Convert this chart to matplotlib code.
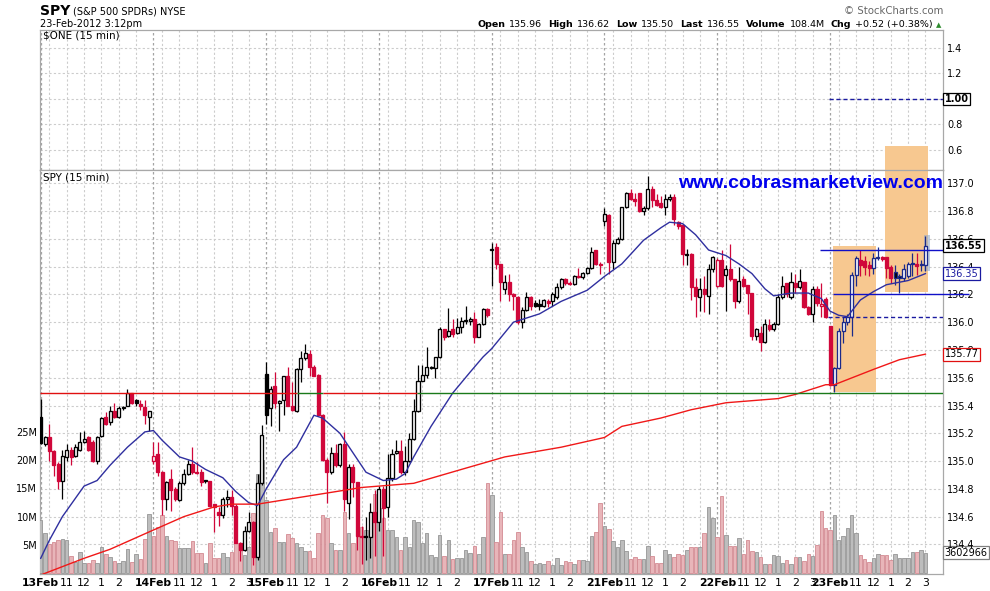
import matplotlib.pyplot as plt
from matplotlib.patches import Rectangle
from matplotlib.transforms import blended_transform_factory

# SPY 15-min bars, 13-Feb-2012 09:30 .. 23-Feb-2012 15:00 (26 per session, 23 on the last one)
days = ['13Feb', '14Feb', '15Feb', '16Feb', '17Feb', '21Feb', '22Feb', '23Feb']
bars_per_day = 26
hour_names = ['11', '12', '1', '2', '3']
hour_offsets = [6, 10, 14, 18, 22]
days_with_3pm = ['14Feb', '22Feb', '23Feb']
grid_offsets = [2, 6, 10, 14, 18, 22]
prior_close = 134.36

opens = [
    135.32, 135.12, 135.17, 135.07, 134.98, 134.86, 135.03, 135.08, 135.04, 135.08, 135.14, 135.17, 135.14,
    135.00, 135.18, 135.32, 135.28, 135.36, 135.32, 135.38, 135.40, 135.49, 135.44, 135.41, 135.39, 135.32,
    135.00, 135.05, 134.92, 134.73, 134.87, 134.80, 134.72, 134.84, 134.91, 134.98, 134.925, 134.92, 134.86,
    134.86, 134.69, 134.63, 134.61, 134.73, 134.74, 134.68, 134.41, 134.36, 134.50, 134.56, 134.31, 134.84,
    135.63, 135.38, 135.54, 135.42, 135.44, 135.61, 135.40, 135.36, 135.66, 135.74, 135.77, 135.68, 135.62,
    135.33, 135.01, 134.92, 135.06, 134.97, 135.12, 134.70, 134.96, 134.85, 134.46, 134.46, 134.45, 134.63,
    134.56, 134.80, 134.67, 134.88, 135.06, 135.075, 134.92, 135.00, 135.16, 135.36, 135.58, 135.62, 135.668,
    135.668, 135.747, 135.95, 135.90, 135.95, 135.92, 135.968, 136.011, 136.011, 136.02, 135.896, 135.987, 136.093,
    136.52, 136.54, 136.42, 136.24, 136.29, 136.20, 136.18, 136.00, 136.09, 136.18, 136.14, 136.13, 136.12,
    136.155, 136.15, 136.18, 136.25, 136.31, 136.285, 136.275, 136.333, 136.323, 136.357, 136.388, 136.52, 136.42,
    136.73, 136.77, 136.43, 136.57, 136.60, 136.83, 136.93, 136.89, 136.93, 136.80, 136.82, 136.96, 136.88,
    136.855, 136.83, 136.89, 136.90, 136.72, 136.70, 136.485, 136.49, 136.25, 136.18, 136.24, 136.19, 136.38,
    136.26, 136.45, 136.34, 136.38, 136.31, 136.15, 136.31, 136.27, 136.21, 135.90, 135.92, 135.86, 135.98,
    135.95, 135.99, 136.18, 136.28, 136.18, 136.28, 136.25, 136.29, 136.11, 136.06, 136.24, 136.12, 136.17,
    135.97, 135.55, 135.67, 135.94, 136.00, 136.04, 136.34, 136.45, 136.44, 136.41, 136.39, 136.46, 136.47,
    136.47, 136.40, 136.36, 136.33, 136.32, 136.33, 136.42, 136.42, 136.41, 136.41,
]
highs = [
    135.45, 135.18, 135.27, 135.08, 134.99, 135.08, 135.12, 135.10, 135.12, 135.21, 135.22, 135.18, 135.15,
    135.18, 135.32, 135.35, 135.40, 135.42, 135.40, 135.40, 135.52, 135.49, 135.45, 135.44, 135.44, 135.36,
    135.14, 135.14, 134.93, 134.86, 134.94, 134.81, 134.86, 134.94, 135.01, 135.10, 134.99, 134.94, 134.86,
    134.86, 134.69, 134.67, 134.74, 134.79, 134.79, 134.69, 134.42, 134.53, 134.63, 134.57, 134.91, 135.26,
    135.71, 135.54, 135.64, 135.44, 135.61, 135.68, 135.57, 135.67, 135.79, 135.84, 135.80, 135.69, 135.63,
    135.34, 135.02, 135.10, 135.12, 135.13, 135.21, 134.98, 134.98, 134.85, 134.53, 134.60, 134.70, 134.79,
    134.82, 134.82, 135.05, 135.09, 135.15, 135.15, 135.11, 135.20, 135.445, 135.69, 135.69, 135.82, 135.685,
    135.75, 135.963, 135.95, 136.10, 136.02, 136.028, 136.04, 136.117, 136.04, 136.076, 135.992, 136.10, 136.10,
    136.57, 136.57, 136.42, 136.34, 136.35, 136.21, 136.19, 136.11, 136.22, 136.19, 136.16, 136.17, 136.17,
    136.17, 136.22, 136.28, 136.32, 136.32, 136.30, 136.34, 136.39, 136.364, 136.40, 136.54, 136.52, 136.43,
    136.82, 136.78, 136.59, 136.61, 136.83, 136.94, 136.96, 136.93, 136.93, 136.84, 137.05, 136.98, 136.92,
    136.91, 136.92, 136.92, 136.92, 136.73, 136.70, 136.53, 136.50, 136.32, 136.32, 136.33, 136.42, 136.48,
    136.46, 136.52, 136.41, 136.56, 136.31, 136.40, 136.33, 136.27, 136.21, 135.96, 135.97, 136.02, 136.02,
    136.00, 136.20, 136.33, 136.28, 136.36, 136.35, 136.38, 136.29, 136.12, 136.26, 136.26, 136.28, 136.18,
    135.97, 135.68, 135.96, 136.04, 136.06, 136.36, 136.48, 136.52, 136.48, 136.44, 136.50, 136.54, 136.48,
    136.47, 136.41, 136.41, 136.35, 136.42, 136.43, 136.50, 136.50, 136.45, 136.62,
]
lows = [
    135.12, 135.11, 135.00, 134.89, 134.80, 134.73, 135.00, 134.97, 135.03, 135.07, 135.13, 135.07, 134.99,
    134.98, 135.17, 135.26, 135.26, 135.31, 135.31, 135.37, 135.40, 135.41, 135.40, 135.37, 135.27, 135.22,
    134.98, 134.89, 134.61, 134.65, 134.64, 134.71, 134.71, 134.83, 134.90, 134.91, 134.91, 134.82, 134.84,
    134.67, 134.49, 134.53, 134.59, 134.67, 134.61, 134.41, 134.28, 134.35, 134.49, 134.25, 134.29, 134.83,
    135.27, 135.25, 135.38, 135.22, 135.33, 135.40, 135.36, 135.35, 135.57, 135.73, 135.61, 135.61, 135.33,
    135.00, 134.70, 134.91, 134.96, 134.96, 134.64, 134.58, 134.74, 134.36, 134.26, 134.29, 134.30, 134.32,
    134.50, 134.32, 134.60, 134.86, 135.05, 134.91, 134.90, 134.99, 135.15, 135.35, 135.58, 135.60, 135.66,
    135.596, 135.74, 135.87, 135.895, 135.895, 135.915, 135.92, 135.99, 135.98, 135.848, 135.89, 135.98, 136.04,
    136.26, 136.38, 136.15, 136.20, 136.15, 136.09, 135.99, 135.96, 136.08, 136.09, 136.11, 136.09, 136.11,
    136.11, 136.12, 136.17, 136.24, 136.27, 136.27, 136.27, 136.315, 136.31, 136.35, 136.38, 136.41, 136.35,
    136.69, 136.35, 136.38, 136.56, 136.59, 136.82, 136.88, 136.84, 136.79, 136.77, 136.81, 136.83, 136.84,
    136.82, 136.77, 136.87, 136.70, 136.67, 136.41, 136.41, 136.16, 136.04, 136.08, 136.07, 136.06, 136.36,
    136.25, 136.25, 136.08, 136.30, 136.10, 136.14, 136.25, 136.06, 135.87, 135.87, 135.79, 135.85, 135.94,
    135.94, 135.98, 136.17, 136.18, 136.17, 136.21, 136.24, 136.10, 136.05, 136.00, 136.12, 136.04, 136.03,
    135.54, 135.50, 135.66, 135.85, 135.98, 135.90, 136.26, 136.33, 136.34, 136.33, 136.35, 136.45, 136.44,
    136.32, 136.28, 136.27, 136.21, 136.30, 136.32, 136.33, 136.34, 136.37, 136.37,
]
closes = [
    135.13, 135.17, 135.07, 134.97, 134.86, 135.04, 135.08, 135.03, 135.10, 135.14, 135.16, 135.08, 135.00,
    135.17, 135.31, 135.27, 135.36, 135.32, 135.38, 135.39, 135.49, 135.42, 135.42, 135.40, 135.33, 135.36,
    135.04, 134.92, 134.73, 134.85, 134.79, 134.73, 134.84, 134.91, 134.98, 134.92, 134.915, 134.85, 134.855,
    134.68, 134.67, 134.61, 134.73, 134.74, 134.68, 134.41, 134.36, 134.50, 134.56, 134.31, 134.84, 135.19,
    135.33, 135.52, 135.42, 135.43, 135.61, 135.40, 135.37, 135.66, 135.74, 135.78, 135.68, 135.61, 135.33,
    135.01, 134.92, 135.06, 134.97, 135.12, 134.73, 134.96, 134.85, 134.46, 134.45, 134.45, 134.63, 134.56,
    134.80, 134.66, 134.88, 135.05, 135.075, 134.92, 135.00, 135.16, 135.36, 135.58, 135.62, 135.675, 135.675,
    135.747, 135.95, 135.89, 135.94, 135.915, 135.968, 136.011, 136.016, 136.02, 135.896, 135.987, 136.093, 136.052,
    136.53, 136.42, 136.29, 136.29, 136.20, 136.19, 136.00, 136.09, 136.18, 136.12, 136.12, 136.12, 136.16,
    136.14, 136.20, 136.25, 136.31, 136.285, 136.275, 136.333, 136.323, 136.352, 136.388, 136.508, 136.42, 136.412,
    136.78, 136.43, 136.57, 136.60, 136.83, 136.93, 136.885, 136.87, 136.80, 136.82, 136.96, 136.88, 136.845,
    136.83, 136.885, 136.90, 136.74, 136.69, 136.49, 136.49, 136.256, 136.19, 136.24, 136.20, 136.38, 136.47,
    136.45, 136.26, 136.38, 136.31, 136.15, 136.30, 136.26, 136.21, 135.90, 135.95, 135.86, 135.99, 135.95,
    135.99, 136.18, 136.26, 136.20, 136.29, 136.25, 136.30, 136.11, 136.06, 136.24, 136.14, 136.13, 136.04,
    135.55, 135.67, 135.94, 136.00, 136.04, 136.34, 136.46, 136.41, 136.40, 136.39, 136.46, 136.465, 136.455,
    136.39, 136.32, 136.32, 136.32, 136.38, 136.42, 136.42, 136.405, 136.42, 136.55,
]
volume_m = [
    9.4, 7.05, 5.17, 5.47, 5.88, 6.0, 5.88, 3.05, 2.05, 3.7, 1.87, 1.75, 2.34,
    1.87, 4.58, 3.35, 2.93, 2.23, 1.75, 2.11, 4.29, 2.05, 3.4, 2.46, 6.0, 10.47,
    6.6, 8.23, 10.3, 6.6, 5.88, 5.76, 4.4, 4.4, 4.4, 5.76, 3.52, 3.52, 1.87,
    5.29, 2.76, 2.76, 3.64, 2.93, 3.82, 5.41, 5.0, 3.23, 4.7, 10.6, 17.6, 20.1,
    12.9, 7.35, 7.94, 5.58, 5.58, 6.88, 6.17, 5.41, 4.7, 3.88, 3.88, 2.64, 7.05,
    10.3, 9.7, 5.3, 4.1, 4.2, 10.8, 7.06, 5.3, 6.6, 8.1, 7.6, 9.0, 14.0,
    11.5, 9.7, 7.65, 7.6, 6.35, 4.1, 6.35, 4.6, 9.4, 9.1, 5.4, 7.2, 3.2,
    2.8, 6.8, 3.05, 5.9, 2.5, 2.64, 2.64, 4.2, 3.64, 4.8, 3.4, 6.35, 15.9,
    13.8, 5.5, 10.9, 3.5, 3.4, 5.9, 7.3, 4.6, 3.8, 2.2, 1.6, 1.8, 1.6,
    2.2, 1.5, 2.64, 1.5, 2.2, 2.05, 1.6, 2.35, 2.35, 2.2, 6.6, 7.3, 12.4,
    8.35, 7.8, 5.7, 4.6, 5.8, 4.0, 2.5, 2.8, 2.6, 2.46, 4.8, 3.05, 1.9,
    1.9, 4.1, 3.4, 2.9, 3.5, 3.2, 4.2, 4.6, 4.6, 4.6, 7.2, 11.65, 9.8,
    6.35, 13.65, 6.8, 4.8, 4.8, 6.2, 3.5, 5.9, 4.0, 3.7, 2.8, 1.6, 1.6,
    3.2, 3.05, 1.9, 2.35, 1.6, 2.8, 2.8, 2.15, 3.4, 3.05, 5.0, 11.0, 8.06,
    7.65, 10.3, 5.9, 6.6, 8.06, 10.3, 7.06, 3.2, 2.46, 1.93, 2.64, 3.5, 3.2,
    3.2, 2.3, 3.5, 2.75, 2.64, 2.64, 3.8, 3.7, 4.2, 3.602966,
]

# moving averages at these bars
ma20_bars = [0, 2, 5, 10, 13, 16, 20, 24, 26, 28, 32, 35, 38, 42, 45, 48, 50, 52, 56, 59,
             63, 65, 69, 72, 75, 79, 82, 84, 86, 90, 95, 99, 102, 104, 109, 115, 120, 126, 130, 134,
             139, 143, 145, 148, 151, 154, 158, 161, 164, 167, 169, 173, 177, 180, 182, 184, 186, 189, 192, 195,
             200, 204]
ma20_vals = [134.30, 134.43, 134.60, 134.82, 134.86, 134.97, 135.10, 135.21, 135.22, 135.15,
             135.03, 135.00, 134.94, 134.88, 134.78, 134.70, 134.68, 134.80, 135.01, 135.10,
             135.33, 135.31, 135.20, 135.06, 134.92, 134.86, 134.87, 134.91, 135.03, 135.25,
             135.49, 135.64, 135.75, 135.81, 136.00, 136.06, 136.15, 136.23, 136.33, 136.42,
             136.59, 136.68, 136.72, 136.71, 136.63, 136.52, 136.48, 136.42, 136.35, 136.24,
             136.19, 136.21, 136.21, 136.17, 136.08, 136.05, 136.04, 136.16, 136.22, 136.27,
             136.30, 136.35]
ma200_bars = [0, 10, 16, 25, 33, 40, 44, 50, 56, 67, 74, 86, 97, 107, 120, 130, 134, 143, 150, 158,
              170, 174, 181, 183, 192, 198, 204]
ma200_vals = [134.18, 134.30, 134.365, 134.49, 134.60, 134.67, 134.69, 134.69, 134.72, 134.775,
              134.81, 134.84, 134.94, 135.03, 135.10, 135.17, 135.25, 135.31, 135.37, 135.42,
              135.45, 135.48, 135.55, 135.55, 135.66, 135.73, 135.77]

header_stats = [('Open', '135.96'), ('High', '136.62'), ('Low', '135.50'), ('Last', '136.55'),
                ('Volume', '108.4M'), ('Chg', '+0.52 (+0.38%)')]
one_level = 1.00
last_ma20 = 136.35
last_ma200 = 135.77
last_volume = 3602966

RED = '#d0073a'
NAVY = '#1b2a8a'
ORANGE = '#f7c890'
GRID = '#cccccc'

n = len(closes)
assert len(opens) == len(highs) == len(lows) == n == len(volume_m)
xs = list(range(n))
xlim = (-0.16, 208.05)

fig = plt.figure(figsize=(9.9, 5.91), dpi=100)
fig.patch.set_facecolor('white')


def px_rect(x0, y0, x1, y1):
    return [x0 / 990, 1 - y1 / 591, (x1 - x0) / 990, (y1 - y0) / 591]


ax_one = fig.add_axes(px_rect(40, 30, 943, 170))
ax_grid = fig.add_axes(px_rect(40, 170, 943, 574))
ax_vol = fig.add_axes(px_rect(40, 170, 943, 574), sharex=ax_grid)
ax = fig.add_axes(px_rect(40, 170, 943, 574), sharex=ax_grid, sharey=ax_grid)

for a in (ax_vol, ax):
    a.patch.set_visible(False)
    for s in a.spines.values():
        s.set_visible(False)
for a in (ax_one, ax_grid):
    for s in a.spines.values():
        s.set_color('#a8a8a8')
        s.set_linewidth(0.9)

# top panel ($ONE)
one_ticks = [0.6, 0.8, 1.0, 1.2, 1.4]
ax_one.set_xlim(*xlim)
ax_one.set_ylim(0.443, 1.541)
ax_one.set_xticks([])
ax_one.set_yticks(one_ticks)
# the 1.0 label sits under the value box, as in the original
ax_one.set_yticklabels(['' if v == one_level else '%.1f' % v for v in one_ticks])
ax_one.yaxis.tick_right()
ax_one.tick_params(axis='y', length=0, pad=3, labelsize=7)
ax_one.set_axisbelow(True)
ax_one.grid(axis='y', color=GRID, linestyle=(0, (2, 2)), linewidth=0.8)
ax_one.hlines(one_level, 181.7, xlim[1], colors='#1a1aa0', linestyles=(0, (3, 2)), linewidth=1.0)
ax_one.text(1.002, one_level, '%.2f' % one_level,
            transform=blended_transform_factory(ax_one.transAxes, ax_one.transData),
            ha='left', va='center', fontsize=7, fontweight='bold', zorder=10,
            bbox=dict(boxstyle='square,pad=0.15', fc='white', ec='black', lw=0.9))

# vertical grid lines: day starts darker, hours lighter
for a in (ax_one, ax_grid):
    for d in range(len(days)):
        start = d * bars_per_day
        a.axvline(start, color='#a4a4a4', linestyle=(0, (2, 2)), linewidth=0.9, zorder=0.6)
        for off in grid_offsets:
            if start + off < xlim[1]:
                a.axvline(start + off, color=GRID, linestyle=(0, (2, 2)), linewidth=0.8, zorder=0.6)

# main price panel
price_ticks = [round(134.4 + 0.2 * k, 1) for k in range(14)]
ax_grid.set_xlim(*xlim)
ax_grid.set_ylim(134.187, 137.096)
ax_grid.set_yticks(price_ticks)
ax_grid.set_axisbelow(True)
ax_grid.grid(axis='y', color=GRID, linestyle=(0, (2, 2)), linewidth=0.8)
ax_grid.tick_params(axis='y', left=False, labelleft=False)

tick_pos, tick_lab = [], []
for d, name in enumerate(days):
    start = d * bars_per_day
    tick_pos.append(start)
    tick_lab.append(name)
    for hn, off in zip(hour_names, hour_offsets):
        if hn == '3' and name not in days_with_3pm:
            continue
        tick_pos.append(start + off)
        tick_lab.append(hn)
ax_grid.set_xticks(tick_pos)
ax_grid.set_xticklabels(tick_lab)
ax_grid.tick_params(axis='x', length=0, pad=3, labelsize=7.8)
for t in ax_grid.get_xticklabels():
    if t.get_text() in days:
        t.set_fontweight('bold')

# highlighted zones
ax_grid.add_patch(Rectangle((182.7, 135.50), 192.6 - 182.7, 136.55 - 135.50, fc=ORANGE, ec='none', zorder=1))
ax_grid.add_patch(Rectangle((194.7, 136.22), 204.6 - 194.7, 137.27 - 136.22, fc=ORANGE, ec='none',
                            zorder=1, clip_on=False))

# volume
ax_vol.set_ylim(-0.12, 71.25)
ax_vol.set_yticks([5, 10, 15, 20, 25])
ax_vol.set_yticklabels(['%dM' % v for v in [5, 10, 15, 20, 25]])
ax_vol.yaxis.tick_left()
ax_vol.tick_params(axis='y', length=0, pad=2, labelsize=7)
ax_vol.tick_params(axis='x', bottom=False, labelbottom=False)
prevs = [prior_close] + closes[:-1]
down = [c < p for c, p in zip(closes, prevs)]
ax_vol.bar(xs, volume_m, width=0.82,
           color=['#e8b5b9' if dn else '#bdbdbd' for dn in down],
           edgecolor=['#d38b93' if dn else '#969696' for dn in down], linewidth=0.6, zorder=2)
ax_vol.text(1.002, volume_m[-1], str(last_volume),
            transform=blended_transform_factory(ax_vol.transAxes, ax_vol.transData),
            ha='left', va='center', fontsize=7, zorder=10, clip_on=False,
            bbox=dict(boxstyle='square,pad=0.15', fc='white', ec='#808080', lw=0.9))

# candles
ax.tick_params(axis='x', bottom=False, labelbottom=False)
ax.yaxis.tick_right()
ax.set_yticklabels(['%.1f' % v for v in price_ticks])
ax.tick_params(axis='y', length=0, pad=3, labelsize=7)
w = 0.7
for i in xs:
    o, h, l, c = opens[i], highs[i], lows[i], closes[i]
    col = RED if down[i] else 'black'
    edge = NAVY if (not down[i] and i > 182) else col
    ax.vlines(i, l, h, color=edge, linewidth=0.9, zorder=4)
    ax.add_patch(Rectangle((i - w / 2, min(o, c)), w, max(abs(c - o), 0.006),
                           fc='white' if c > o else col, ec=edge, lw=0.95, zorder=5))

ax.add_patch(Rectangle((203.6, 136.37), 1.4, 0.26, fc='#8fa8c8', ec='none', alpha=0.55, zorder=3.5))

ax.plot(ma20_bars, ma20_vals, color='#2f2f9f', linewidth=1.0, zorder=6)
ax.plot(ma200_bars, ma200_vals, color='#f01818', linewidth=1.0, zorder=6)

# drawn levels
level = 135.49
for x0, x1, col in [(xlim[0], 59.1, '#e01010'), (59.1, 65.0, '#1a7a1a'),
                    (65.0, 86.8, '#e01010'), (86.8, xlim[1], '#1a7a1a')]:
    ax.hlines(level, x0, x1, colors=col, linewidth=1.0, zorder=6)
ax.hlines(136.52, 179.7, 208.7, colors='#1010c8', linewidth=1.0, zorder=6, clip_on=False)
ax.hlines(136.20, 182.7, 214.0, colors='#1010c8', linewidth=1.0, zorder=6, clip_on=False)
ax.hlines(136.035, 181.5, xlim[1], colors='#1a1aa0', linestyles=(0, (3, 2)), linewidth=1.0, zorder=6)

trans = blended_transform_factory(ax.transAxes, ax.transData)
for val, ec, tc, wt in [(closes[-1], 'black', 'black', 'bold'), (last_ma20, '#1a1aa0', '#1a1aa0', 'normal'),
                        (last_ma200, '#e01010', 'black', 'normal')]:
    ax.text(1.002, val, '%.2f' % val, transform=trans, ha='left', va='center', fontsize=7,
            fontweight=wt, color=tc, zorder=10, clip_on=False,
            bbox=dict(boxstyle='square,pad=0.15', fc='white', ec=ec, lw=0.9))

# header
renderer = fig.canvas.get_renderer()
t_spy = fig.text(40 / 990, 1 - 15 / 591, 'SPY', fontsize=10, fontweight='bold', va='baseline')
spy_w = t_spy.get_window_extent(renderer).width
fig.text((40 + spy_w + 3) / 990, 1 - 15 / 591, '(S&P 500 SPDRs) NYSE', fontsize=7, va='baseline')
fig.text(40 / 990, 1 - 27 / 591, '23-Feb-2012 3:12pm', fontsize=7, va='baseline')
fig.text(943 / 990, 1 - 14 / 591, '\u00a9 StockCharts.com', fontsize=7.3, va='baseline', ha='right', color='#666666')

pieces = []
for lab, val in header_stats:
    pieces.append((lab, 'bold', 4))
    pieces.append((val, 'normal', 6))
items = []
total = 0
for s, wt, gap in pieces:
    t = fig.text(0, 0, s, fontsize=6.8, fontweight=wt, va='baseline')
    wd = t.get_window_extent(renderer).width
    items.append((t, wd, gap))
    total += wd + gap
x = 933 - (total - items[-1][2])
for t, wd, gap in items:
    t.set_position((x / 990, 1 - 27 / 591))
    x += wd + gap
fig.text(939 / 990, 1 - 27 / 591, '\u25b2', fontsize=5, color='#2e8b2e', ha='center', va='baseline')

fig.text(43 / 990, 1 - 36 / 591, '$ONE (15 min)', fontsize=7.5, va='center')
fig.text(43 / 990, 1 - 177 / 591, 'SPY (15 min)', fontsize=7.5, va='center')
fig.text(943 / 990, 1 - 188 / 591, 'www.cobrasmarketview.com', fontsize=14, fontweight='bold',
         family='Liberation Sans', color='#0000ee', ha='right', va='baseline')

fig.savefig('out.png', dpi=100, facecolor='white')
